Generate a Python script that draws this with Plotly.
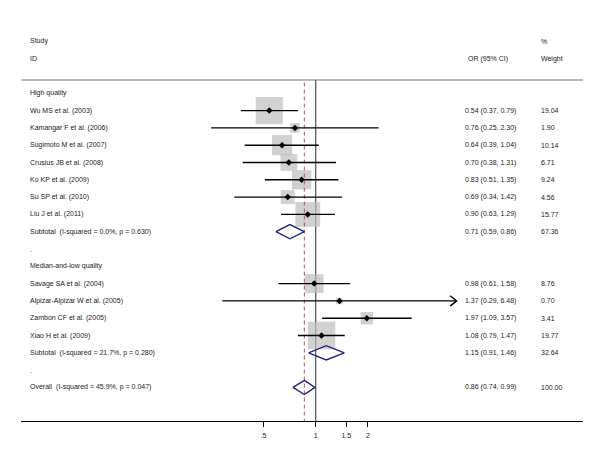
import math
import plotly.graph_objects as go

# ---------------- data ----------------
group1_name = "High quality"
group1_studies = ["Wu MS et al. (2003)", "Kamangar F et al. (2006)", "Sugimoto M et al. (2007)",
                  "Crusius JB et al. (2008)", "Ko KP et al. (2009)", "Su SP et al. (2010)",
                  "Liu J et al. (2011)"]
group1_or = [0.54, 0.76, 0.64, 0.70, 0.83, 0.69, 0.90]
group1_lo = [0.37, 0.25, 0.39, 0.38, 0.51, 0.34, 0.63]
group1_hi = [0.79, 2.30, 1.04, 1.31, 1.35, 1.42, 1.29]
group1_w = [19.04, 1.90, 10.14, 6.71, 9.24, 4.56, 15.77]
group1_sub = dict(label="Subtotal\u00a0 (I-squared = 0.0%, p = 0.630)", est=0.71, lo=0.59, hi=0.86, w=67.36)

group2_name = "Median-and-low quality"
group2_studies = ["Savage SA et al. (2004)", "Alpizar-Alpizar W et al. (2005)",
                  "Zambon CF et al. (2005)", "Xiao H et al. (2009)"]
group2_or = [0.98, 1.37, 1.97, 1.08]
group2_lo = [0.61, 0.29, 1.09, 0.79]
group2_hi = [1.58, 6.48, 3.57, 1.47]
group2_w = [8.76, 0.70, 3.41, 19.77]
group2_sub = dict(label="Subtotal\u00a0 (I-squared = 21.7%, p = 0.280)", est=1.15, lo=0.91, hi=1.46, w=32.64)

overall = dict(label="Overall\u00a0 (I-squared = 45.9%, p = 0.047)", est=0.86, lo=0.74, hi=0.99, w=100.00)

tick_vals = [0.5, 1, 1.5, 2]
tick_text = [".5", "1", "1.5", "2"]

# arrow-clipped studies (upper CI drawn with arrow)
arrow_studies = ["Alpizar-Alpizar W et al. (2005)"]

# ---------------- layout of rows ----------------
FONT = "Liberation Sans, Arial, sans-serif"
TXT = "#1a1a1a"
rows = []  # (kind, label, est, lo, hi, w)
rows.append(("head", group1_name, None, None, None, None))
for s, e, l, h, w in zip(group1_studies, group1_or, group1_lo, group1_hi, group1_w):
    rows.append(("study", s, e, l, h, w))
rows.append(("sub", group1_sub["label"], group1_sub["est"], group1_sub["lo"], group1_sub["hi"], group1_sub["w"]))
rows.append(("dot", ".", None, None, None, None))
rows.append(("head", group2_name, None, None, None, None))
for s, e, l, h, w in zip(group2_studies, group2_or, group2_lo, group2_hi, group2_w):
    rows.append(("study", s, e, l, h, w))
rows.append(("sub", group2_sub["label"], group2_sub["est"], group2_sub["lo"], group2_sub["hi"], group2_sub["w"]))
rows.append(("dot", ".", None, None, None, None))
rows.append(("sub", overall["label"], overall["est"], overall["lo"], overall["hi"], overall["w"]))

L, R = 21, 583
lo_log = (L - 315.7) / 173.6
hi_log = (R - 315.7) / 173.6

fig = go.Figure()

sq_x, sq_y, sq_s = [], [], []
ci_x, ci_y = [], []
dot_x, dot_y = [], []
arrow_x, arrow_y = [], []
for i, (kind, lab, e, l, h, w) in enumerate(rows):
    if kind == "study":
        sq_x.append(e); sq_y.append(i); sq_s.append(5.87 * math.sqrt(w) + 1.5)
        ci_x += [l, h, None]; ci_y += [i, i, None]
        dot_x.append(e); dot_y.append(i)
        if lab in arrow_studies:
            back = h / math.exp(0.085)
            arrow_x += [back, h, back, None]; arrow_y += [i - 0.3, i, i + 0.3, None]

SEP_ROW = -0.77
AXIS_ROW = 18.942

# separator under header (spans the whole plotting width)
fig.add_trace(go.Scatter(x=[10 ** (lo_log + 0.001), 10 ** (hi_log - 0.001)], y=[SEP_ROW, SEP_ROW],
                         mode="lines", line=dict(color="#b8b8b8", width=2), hoverinfo="skip",
                         cliponaxis=False))
# vertical line at 1 (null)
fig.add_trace(go.Scatter(x=[1, 1], y=[SEP_ROW, AXIS_ROW], mode="lines",
                         line=dict(color="#5a5a5a", width=1.3), hoverinfo="skip"))
# squares
fig.add_trace(go.Scatter(x=sq_x, y=sq_y, mode="markers",
                         marker=dict(symbol="square", size=sq_s, color="#bdbdbd", line=dict(width=0)),
                         hoverinfo="skip"))
# dashed overall line
fig.add_trace(go.Scatter(x=[overall["est"], overall["est"]], y=[SEP_ROW + 0.15, AXIS_ROW], mode="lines",
                         line=dict(color="#c0505e", width=1, dash="4px,3px"), hoverinfo="skip"))
# CI lines
fig.add_trace(go.Scatter(x=ci_x, y=ci_y, mode="lines", line=dict(color="black", width=1.4),
                         hoverinfo="skip"))
fig.add_trace(go.Scatter(x=arrow_x, y=arrow_y, mode="lines", line=dict(color="black", width=1.4),
                         hoverinfo="skip"))
# point estimates
fig.add_trace(go.Scatter(x=dot_x, y=dot_y, mode="markers",
                         marker=dict(symbol="diamond", size=5, color="black"), hoverinfo="skip"))
# diamonds
for i, (kind, lab, e, l, h, w) in enumerate(rows):
    if kind == "sub":
        hh = 0.41
        fig.add_trace(go.Scatter(x=[l, e, h, e, l], y=[i, i - hh, i, i + hh, i], mode="lines",
                                 line=dict(color="#1f2478", width=1.4), hoverinfo="skip"))

# ---------------- text ----------------
def px(xp):
    return (xp - L) / (R - L)

ann = []
def txt(x, y, s):
    ann.append(dict(x=px(x), y=y, xref="paper", yref="y", text=s, showarrow=False,
                    xanchor="left", yanchor="middle", font=dict(family=FONT, size=7, color=TXT)))

txt(28, -3, "Study")
txt(28, -2, "ID")
txt(466, -2, "OR (95% CI)")
txt(539, -3, "%")
txt(539, -2, "Weight")
for i, (kind, lab, e, l, h, w) in enumerate(rows):
    txt(28, i, lab)
    if e is not None:
        txt(463, i, f"{e:.2f} ({l:.2f}, {h:.2f})")
        txt(539, i, f"{w:.2f}")

fig.update_layout(
    width=600, height=467,
    margin=dict(l=L, r=600 - R, t=0, b=46),
    paper_bgcolor="white", plot_bgcolor="white",
    showlegend=False,
    annotations=ann,
    font=dict(family=FONT, color=TXT),
    xaxis=dict(type="log", range=[lo_log, hi_log], showgrid=False, zeroline=False,
               showline=True, linecolor="black", linewidth=1.3,
               ticks="outside", ticklen=5, tickwidth=1, tickcolor="black",
               tickvals=tick_vals, ticktext=tick_text, ticklabelstandoff=2,
               tickfont=dict(family=FONT, size=7, color=TXT), fixedrange=True),
    yaxis=dict(range=[AXIS_ROW, -5.393], visible=False, showgrid=False, zeroline=False, fixedrange=True),
)

fig.write_html("out.html", config={"displayModeBar": False},
               post_script="document.body.style.margin='0';")
